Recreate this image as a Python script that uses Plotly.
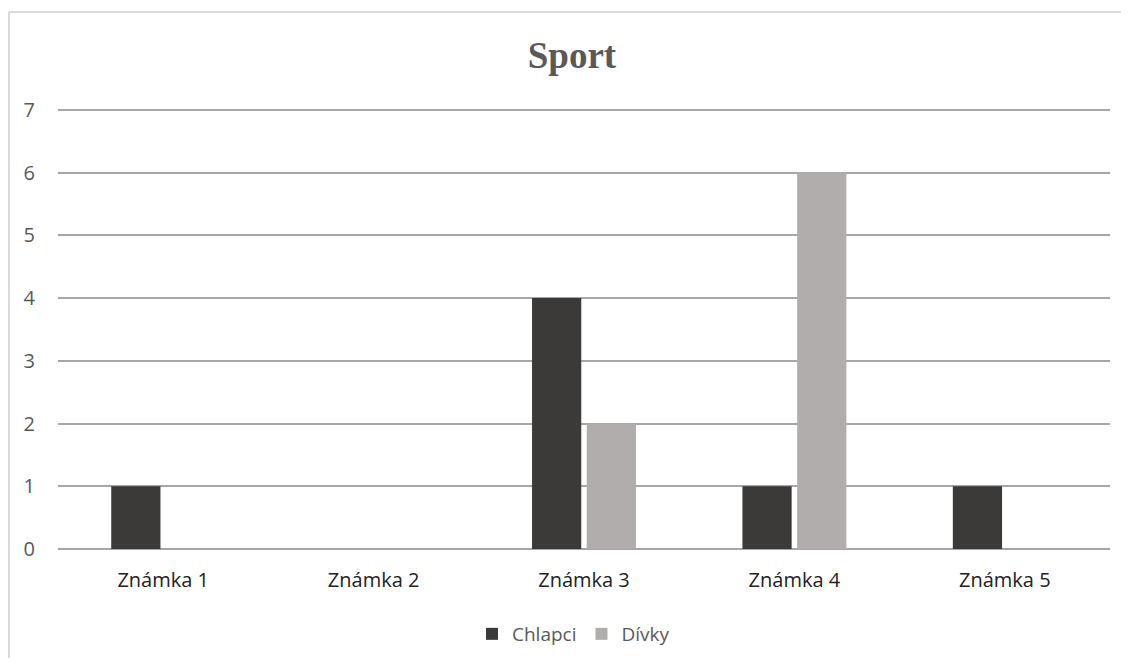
import plotly.graph_objects as go

categories = ["Známka 1", "Známka 2", "Známka 3", "Známka 4", "Známka 5"]
chlapci = [1, 0, 4, 1, 1]
divky = [0, 0, 2, 6, 0]
y_ticks = [0, 1, 2, 3, 4, 5, 6, 7]

TEXT = "#595959"
GRID = "#a6a6a6"
BORDER = "#d9d9d9"
OFF = 8  # page body margin
W, H = 1129 - 2 * OFF, 666 - 2 * OFF
L, T = 58 - OFF, 108 - OFF
R = OFF + W - 1110
B = OFF + H - 549
pw, ph = W - L - R, H - T - B

fig = go.Figure()
fig.add_bar(x=categories, y=chlapci, name="Chlapci",
            marker=dict(color="#3b3a38", line=dict(width=0)))
fig.add_bar(x=categories, y=divky, name="Dívky",
            marker=dict(color="#b0adac", line=dict(width=0)))

fig.update_layout(
    width=W, height=H,
    margin=dict(l=L, r=R, t=T, b=B),
    paper_bgcolor="white", plot_bgcolor="white",
    font=dict(family="Open Sans, sans-serif", size=19, color=TEXT),
    title=dict(text="<b>Sport</b>", x=(572 - OFF) / W, xanchor="center",
               y=1 - (55 - OFF) / H, yanchor="middle",
               font=dict(family="Liberation Serif, serif", size=37, color=TEXT)),
    barmode="group", bargap=0.48, bargroupgap=0.1,
    xaxis=dict(showgrid=False, showline=False, ticks="", ticklabelstandoff=17,
               tickfont=dict(size=20, color="#222222")),
    yaxis=dict(range=[0, 7.03], tickvals=y_ticks, gridcolor=GRID, gridwidth=2,
               zeroline=True, zerolinecolor=GRID, zerolinewidth=2,
               showline=False, ticks="", ticklabelstandoff=22,
               tickfont=dict(size=20, color=TEXT)),
    legend=dict(orientation="h", x=0.49, xanchor="center",
                yref="container", y=1 - (634 - OFF) / H, yanchor="middle",
                font=dict(size=19, color=TEXT), itemwidth=30,
                traceorder="normal"),
    showlegend=True,
)

# outer chart border: only the left and top edges show in the reference
fig.add_shape(type="line", xref="paper", yref="paper",
              x0=(1 - L) / pw, x1=(1 - L) / pw,
              y0=-(H - T - ph) / ph, y1=1 + (108 - 12) / ph,
              line=dict(color=BORDER, width=2), layer="below")
fig.add_shape(type="line", xref="paper", yref="paper",
              x0=(1 - L) / pw, x1=(W - L) / pw,
              y0=1 + (108 - 12) / ph, y1=1 + (108 - 12) / ph,
              line=dict(color=BORDER, width=2), layer="below")

fig.write_html("out.html")
